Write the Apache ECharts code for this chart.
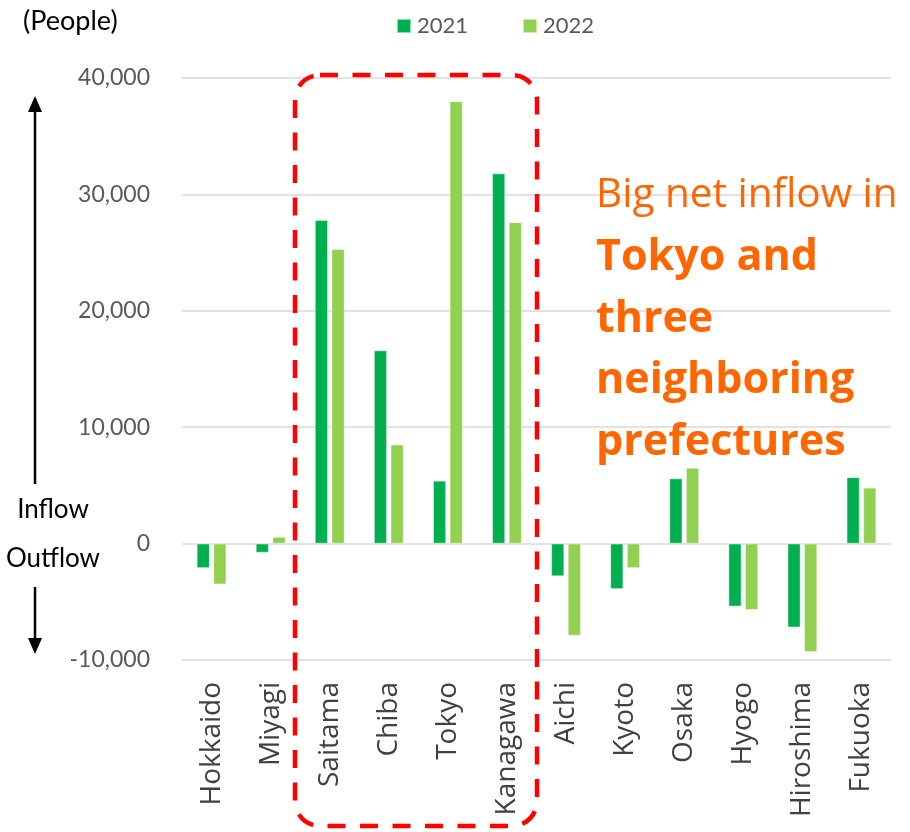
<!DOCTYPE html>
<html>
<head>
<meta charset="utf-8">
<script src="https://cdn.jsdelivr.net/npm/echarts@6/dist/echarts.min.js"></script>
<style>
  html, body { margin: 0; padding: 0; background: #fff; }
  #chart { width: 910px; height: 832px; }
</style>
</head>
<body>
<div id="chart"></div>
<script>
// Net migration by prefecture (people)
const categories = ['Hokkaido', 'Miyagi', 'Saitama', 'Chiba', 'Tokyo', 'Kanagawa',
                    'Aichi', 'Kyoto', 'Osaka', 'Hyogo', 'Hiroshima', 'Fukuoka'];
const seriesNames = ['2021', '2022'];
const values2021 = [-2100, -780, 27800, 16600, 5400, 31800, -2800, -3900, 5600, -5400, -7200, 5700];
const values2022 = [-3500, 570, 25300, 8500, 38000, 27600, -7900, -2100, 6500, -5700, -9300, 4800];
const yMin = -10000, yMax = 40000, yStep = 10000;

const unitLabel = '(People)';
const inflowLabel = 'Inflow';
const outflowLabel = 'Outflow';
const noteLead = 'Big net inflow in';
const noteBold = ['Tokyo and', 'three', 'neighboring', 'prefectures'];

const GREEN_DARK = '#00B050';
const GREEN_LIGHT = '#92D050';
const ORANGE = '#FF6600';
const FONT = 'Lato, "Open Sans", sans-serif';
const LABEL_FONT = '"Open Sans", "Noto Sans", sans-serif';

const chart = echarts.init(document.getElementById('chart'), null, { renderer: 'canvas' });

const noteX = 596, noteLine = 61.5, noteBase = 175;
const noteTexts = [{ text: noteLead, weight: 'normal', size: 40.5 }]
  .concat(noteBold.map(t => ({ text: t, weight: 'bold', size: 43 })))
  .map((t, i) => ({
    type: 'text',
    z: 100,
    style: {
      text: t.text,
      x: noteX,
      y: noteBase + i * noteLine,
      fill: ORANGE,
      fontSize: t.size,
      fontWeight: t.weight,
      fontFamily: LABEL_FONT,
      textAlign: 'left',
      textVerticalAlign: 'alphabetic',
      verticalAlign: 'alphabetic',
      textBaseline: 'alphabetic'
    }
  }));

const option = {
  animation: false,
  backgroundColor: '#fff',
  textStyle: { fontFamily: FONT },
  grid: { left: 182, right: 19, top: 78, bottom: 172, containLabel: false },
  legend: {
    data: seriesNames,
    left: 391,
    top: 10,
    itemWidth: 14,
    itemHeight: 14,
    itemGap: 54,
    icon: 'rect',
    textStyle: { fontSize: 22, color: '#595959', fontFamily: FONT, padding: [0, 0, 0, 1] }
  },
  xAxis: {
    type: 'category',
    data: categories,
    axisLine: { show: false, onZero: false },
    axisTick: { show: false },
    splitLine: { show: false },
    axisLabel: {
      rotate: 90,
      margin: 22,
      fontSize: 28,
      color: '#404040',
      fontFamily: LABEL_FONT,
      interval: 0
    }
  },
  yAxis: {
    type: 'value',
    min: yMin,
    max: yMax,
    interval: yStep,
    axisLine: { show: false },
    axisTick: { show: false },
    splitLine: { lineStyle: { color: '#d9d9d9', width: 1.5 } },
    axisLabel: {
      margin: 32,
      fontSize: 23,
      color: '#595959',
      fontFamily: FONT,
      formatter: v => v.toLocaleString('en-US')
    }
  },
  series: [
    {
      name: seriesNames[0],
      type: 'bar',
      data: values2021,
      barWidth: 13,
      barGap: '28%',
      itemStyle: { color: GREEN_DARK, borderColor: 'rgba(255,255,255,0.55)', borderWidth: 0.8 }
    },
    {
      name: seriesNames[1],
      type: 'bar',
      data: values2022,
      barWidth: 13,
      barGap: '28%',
      itemStyle: { color: GREEN_LIGHT, borderColor: 'rgba(255,255,255,0.55)', borderWidth: 0.8 }
    }
  ],
  graphic: [
    {
      type: 'text',
      style: {
        text: unitLabel, x: 23, y: 21, fill: '#000', fontSize: 27, fontFamily: FONT,
        textAlign: 'left', textVerticalAlign: 'middle', verticalAlign: 'middle'
      }
    },
    // inflow / outflow direction arrows
    { type: 'line', shape: { x1: 35, y1: 484, x2: 35, y2: 108 }, style: { stroke: '#000', lineWidth: 2.5 } },
    { type: 'polygon', shape: { points: [[35, 96], [28, 112], [42, 112]] }, style: { fill: '#000' } },
    { type: 'line', shape: { x1: 35, y1: 587, x2: 35, y2: 642 }, style: { stroke: '#000', lineWidth: 2.5 } },
    { type: 'polygon', shape: { points: [[35, 654], [28, 638], [42, 638]] }, style: { fill: '#000' } },
    {
      type: 'text',
      style: {
        text: inflowLabel, x: 53, y: 510, fill: '#000', fontSize: 26, fontFamily: FONT,
        textAlign: 'center', textVerticalAlign: 'middle', verticalAlign: 'middle'
      }
    },
    {
      type: 'text',
      style: {
        text: outflowLabel, x: 53, y: 559, fill: '#000', fontSize: 26, fontFamily: FONT,
        textAlign: 'center', textVerticalAlign: 'middle', verticalAlign: 'middle'
      }
    },
    // highlight box around the capital region
    {
      type: 'rect',
      z: 90,
      shape: { x: 295, y: 75, width: 242, height: 751, r: 25 },
      style: { fill: 'none', stroke: '#FF0000', lineWidth: 4.5, lineDash: [18, 14.5] }
    }
  ].concat(noteTexts)
};

chart.setOption(option);
</script>
</body>
</html>
